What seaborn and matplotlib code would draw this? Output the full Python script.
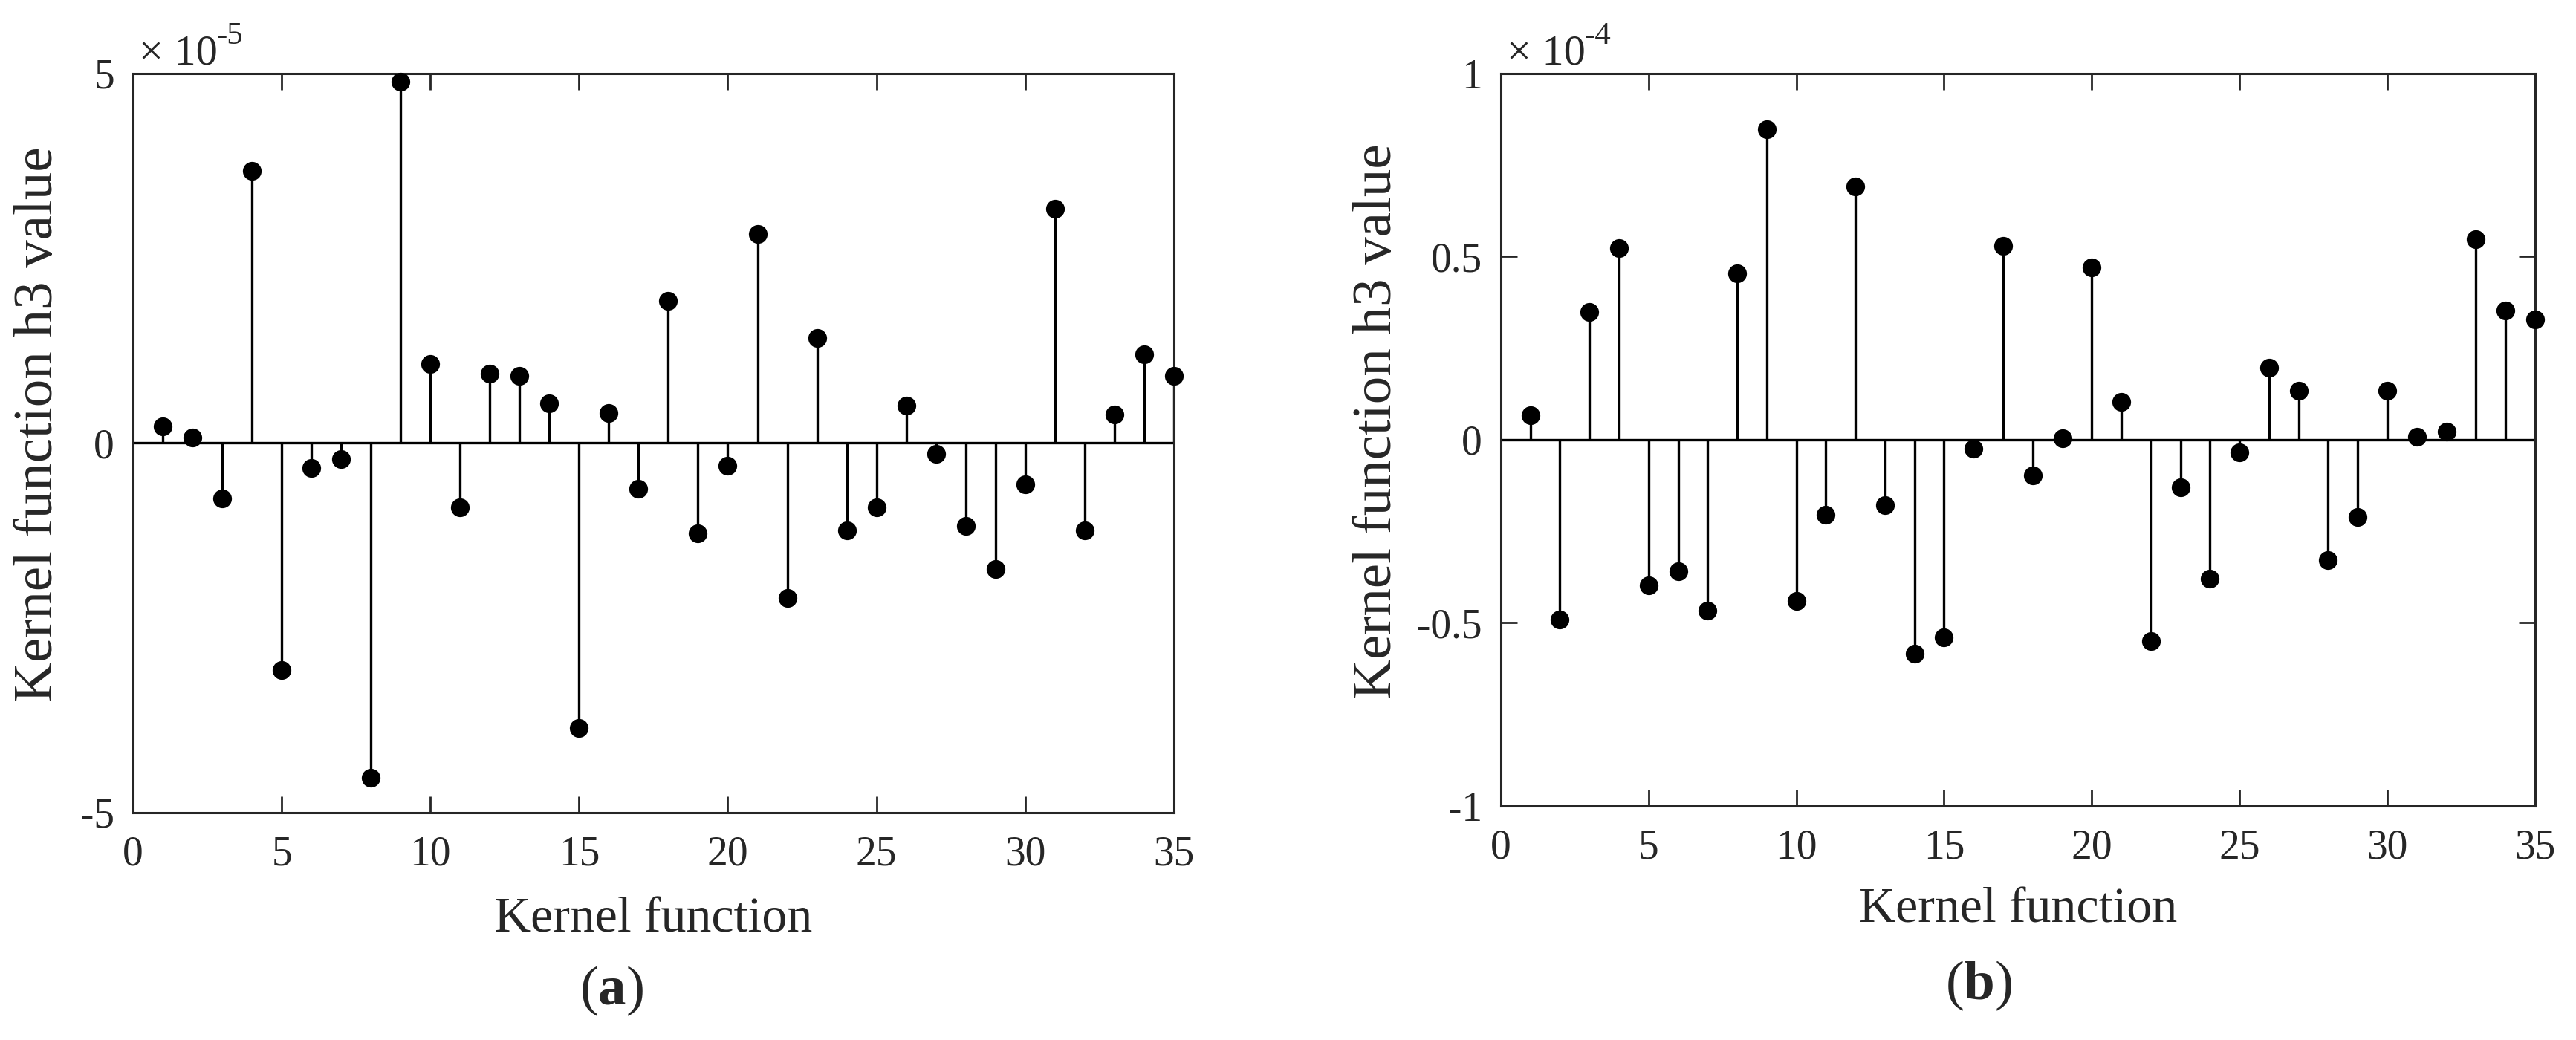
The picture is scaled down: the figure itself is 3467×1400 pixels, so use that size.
import numpy as np
import pandas as pd
import matplotlib
matplotlib.use('Agg')
import matplotlib.pyplot as plt
import matplotlib.transforms as mtransforms
import seaborn as sns

# kernel function index 1..35
kernels = list(range(1, 36))

# h3 values, panel (a), in units of 1e-5
h3_a = [0.23, 0.08, -0.75, 3.68, -3.07, -0.34, -0.22, -4.53, 4.89, 1.07,
        -0.87, 0.94, 0.91, 0.54, -3.85, 0.41, -0.62, 1.92, -1.22, -0.31,
        2.83, -2.10, 1.42, -1.18, -0.87, 0.51, -0.15, -1.12, -1.70, -0.56,
        3.17, -1.18, 0.39, 1.20, 0.91]

# h3 values, panel (b), in units of 1e-4
h3_b = [0.067, -0.491, 0.348, 0.524, -0.397, -0.359, -0.466, 0.455, 0.848, -0.440,
        -0.205, 0.692, -0.178, -0.585, -0.540, -0.024, 0.529, -0.098, 0.004, 0.471,
        0.103, -0.549, -0.129, -0.380, -0.034, 0.197, 0.134, -0.328, -0.210, 0.134,
        0.009, 0.022, 0.547, 0.353, 0.328]

yticks_a = [-5, 0, 5]
yticks_b = [-1, -0.5, 0, 0.5, 1]
xticks = [0, 5, 10, 15, 20, 25, 30, 35]

sns.set_theme(style='ticks')
plt.rcParams['font.family'] = ['Liberation Serif', 'DejaVu Serif']
plt.rcParams['mathtext.fontset'] = 'custom'
plt.rcParams['mathtext.rm'] = 'Liberation Serif'
plt.rcParams['mathtext.bf'] = 'Liberation Serif:bold'
plt.rcParams['axes.unicode_minus'] = False

ink = '#262626'
fig = plt.figure(figsize=(34.67, 14), dpi=100)
ax_a = fig.add_axes([0.0516, 0.2186, 0.4041, 0.7107])
ax_b = fig.add_axes([0.5826, 0.2250, 0.4015, 0.7043])


def stem_panel(ax, vals, yticks, exp, ylab_x, xlab_y):
    df = pd.DataFrame({'k': kernels, 'h3': vals})
    ax.axhline(0, color='black', lw=2.4, zorder=1)
    ax.vlines(df['k'], 0, df['h3'], color='black', lw=2.4, zorder=2)
    sns.scatterplot(data=df, x='k', y='h3', ax=ax, color='black', s=330,
                    linewidth=0, zorder=3, legend=False, clip_on=False)
    ax.set_xlim(0, 35)
    ax.set_ylim(yticks[0], yticks[-1])
    ax.set_xticks(xticks)
    ax.set_yticks(yticks)
    ax.set_yticklabels(['%g' % t for t in yticks])
    ax.tick_params(axis='both', direction='in', length=16, width=2,
                   labelsize=40, color=ink, labelcolor=ink,
                   top=True, right=True)
    ax.tick_params(axis='x', pad=22)
    ax.tick_params(axis='y', pad=18)
    for sp in ax.spines.values():
        sp.set_linewidth(2.2)
        sp.set_color(ink)
    ax.set_xlabel('Kernel function', fontsize=49, color=ink)
    ax.set_ylabel('Kernel function h3 value', fontsize=54, color=ink)
    ax.xaxis.label.set_va('center')
    ax.yaxis.label.set_va('center')
    ax.xaxis.set_label_coords(0.5, xlab_y)
    ax.yaxis.set_label_coords(ylab_x, 0.525)
    # MATLAB-style exponent label above the top-left corner
    tr = mtransforms.offset_copy(ax.transAxes, fig=fig, x=6, y=9, units='points')
    ax.text(0, 1, '\u00d7 10', transform=tr, size=42, color=ink,
            ha='left', va='baseline')
    tr2 = mtransforms.offset_copy(ax.transAxes, fig=fig, x=81, y=29, units='points')
    ax.text(0, 1, exp, transform=tr2, size=31, color=ink,
            ha='left', va='baseline')


stem_panel(ax_a, h3_a, yticks_a, '-5', -0.0907, -0.145)
stem_panel(ax_b, h3_b, yticks_b, '-4', -0.119, -0.142)

fig.text(823 / 3467, 0.047, r'($\mathbf{a}$)', fontsize=54, color=ink,
         ha='center', va='center')
fig.text(2663 / 3467, 0.052, r'($\mathbf{b}$)', fontsize=54, color=ink,
         ha='center', va='center')

fig.savefig('out.png', dpi=100)
